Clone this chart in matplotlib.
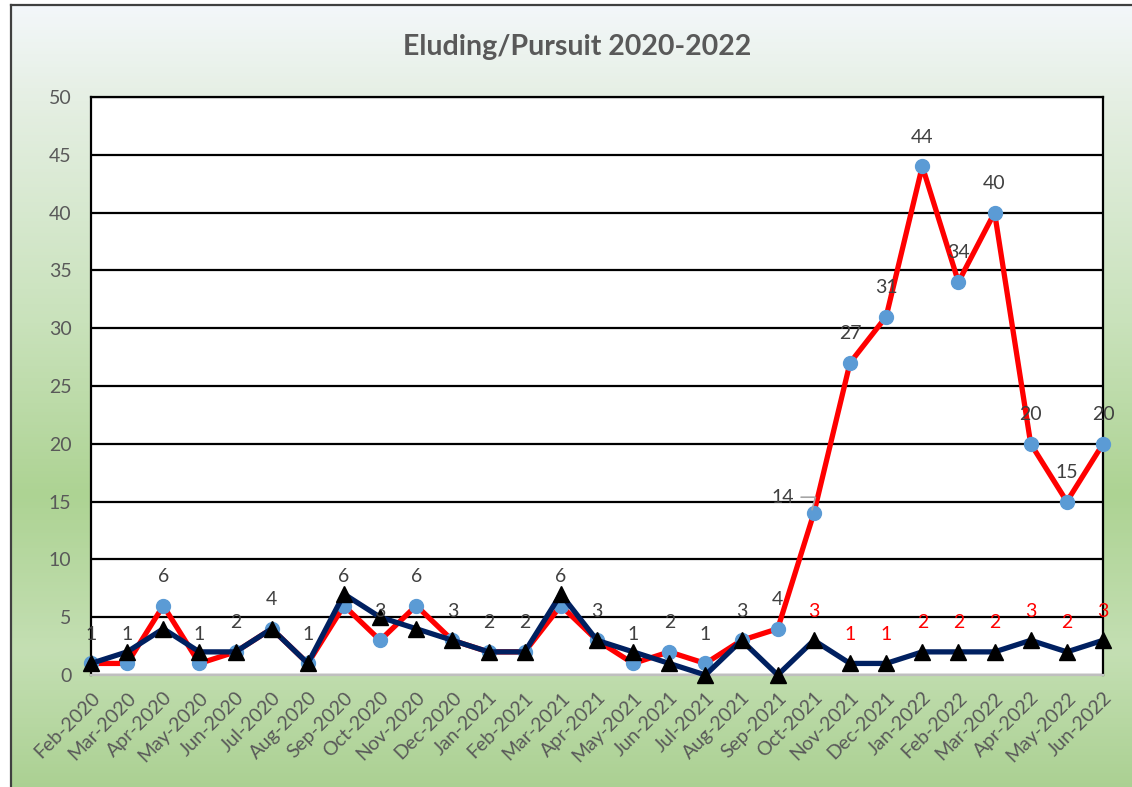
import numpy as np
import matplotlib
matplotlib.use("Agg")
import matplotlib.pyplot as plt
from matplotlib.colors import LinearSegmentedColormap

plt.rcParams['font.family'] = ['Lato', 'DejaVu Sans']

months = ["Feb-2020", "Mar-2020", "Apr-2020", "May-2020", "Jun-2020", "Jul-2020",
          "Aug-2020", "Sep-2020", "Oct-2020", "Nov-2020", "Dec-2020", "Jan-2021",
          "Feb-2021", "Mar-2021", "Apr-2021", "May-2021", "Jun-2021", "Jul-2021",
          "Aug-2021", "Sep-2021", "Oct-2021", "Nov-2021", "Dec-2021", "Jan-2022",
          "Feb-2022", "Mar-2022", "Apr-2022", "May-2022", "Jun-2022"]
eluding = [1, 1, 6, 1, 2, 4, 1, 6, 3, 6, 3, 2, 2, 6, 3, 1, 2, 1, 3, 4,
           14, 27, 31, 44, 34, 40, 20, 15, 20]
pursuit = [1, 2, 4, 2, 2, 4, 1, 7, 5, 4, 3, 2, 2, 7, 3, 2, 1, 0, 3, 0,
           3, 1, 1, 2, 2, 2, 3, 2, 3]
pursuit_label_start = 20  # red labels shown from Oct-2021 on
yticks = list(range(0, 51, 5))

W, H = 1132, 787
fig = plt.figure(figsize=(W / 100, H / 100), dpi=100)
fig.patch.set_facecolor("white")

# gradient background with dark border on left / top
bg = fig.add_axes([11 / W, -0.01, 1.01, 1 - 5 / H + 0.01], zorder=-5)
cmap = LinearSegmentedColormap.from_list("bg", [
    (0.0, "#f3f7fa"), (0.12, "#e5efe3"), (0.4, "#c9e2bb"),
    (0.62, "#add393"), (0.82, "#c4dfb3"), (1.0, "#aad091")])
grad = np.linspace(0, 1, 256).reshape(-1, 1)
bg.imshow(grad, aspect="auto", cmap=cmap, extent=[0, 1, 0, 1], origin="upper")
bg.set_xticks([])
bg.set_yticks([])
for s in ["right", "bottom"]:
    bg.spines[s].set_visible(False)
for s in ["left", "top"]:
    bg.spines[s].set_color("#404040")
    bg.spines[s].set_linewidth(1.6)

ax = fig.add_axes([91 / W, 1 - 675 / H, (1103 - 91) / W, (675 - 97) / H])
ax.set_facecolor("white")
x = np.arange(len(months))

ax.plot(x, eluding, color="#ff0000", lw=3.8, marker="o", ms=10,
        mfc="#5b9bd5", mec="#5b9bd5", zorder=3, clip_on=False)
ax.plot(x, pursuit, color="#002060", lw=3.8, marker="^", ms=11,
        mfc="black", mec="black", zorder=4, clip_on=False)

for i, v in enumerate(eluding):
    if v == 14:
        # label pushed left with a small leader line
        ax.annotate(str(v), (i - 0.05, v + 0.3), xytext=(-21, 9),
                    textcoords="offset points", ha="center", va="center",
                    fontsize=14, color="#404040", zorder=6,
                    arrowprops=dict(arrowstyle="-", color="#a6a6a6", lw=1.2,
                                    relpos=(1, 0.5), shrinkA=3, shrinkB=0,
                                    connectionstyle="angle,angleA=0,angleB=75,rad=0"))
    else:
        ax.annotate(str(v), (i, v), xytext=(0, 21), textcoords="offset points",
                    ha="center", va="center", fontsize=14, color="#404040",
                    zorder=6)
for i, v in enumerate(pursuit):
    if i >= pursuit_label_start:
        ax.annotate(str(v), (i, v), xytext=(0, 21), textcoords="offset points",
                    ha="center", va="center", fontsize=14, color="#ff0000",
                    zorder=6)

ax.set_xlim(0, len(months) - 1)
ax.set_ylim(0, 50)
ax.set_yticks(yticks)
ax.set_xticks(x)
ax.set_xticklabels(months, rotation=45, ha="right", rotation_mode="anchor")
ax.tick_params(axis="both", length=0, labelsize=14, labelcolor="#595959")
ax.tick_params(axis="y", pad=14)
ax.tick_params(axis="x", pad=10)
ax.grid(axis="y", color="black", lw=1.6, zorder=1)
ax.set_axisbelow(True)
for s in ["left", "right", "top"]:
    ax.spines[s].set_color("black")
    ax.spines[s].set_linewidth(1.6)
ax.spines["bottom"].set_color("#bfbfbf")
ax.spines["bottom"].set_linewidth(1.6)

fig.text(577 / W, 1 - 47 / H, "Eluding/Pursuit 2020-2022", ha="center",
         va="center", fontsize=20.5, fontweight="bold", color="#595959")

fig.savefig("out.png", dpi=100)
